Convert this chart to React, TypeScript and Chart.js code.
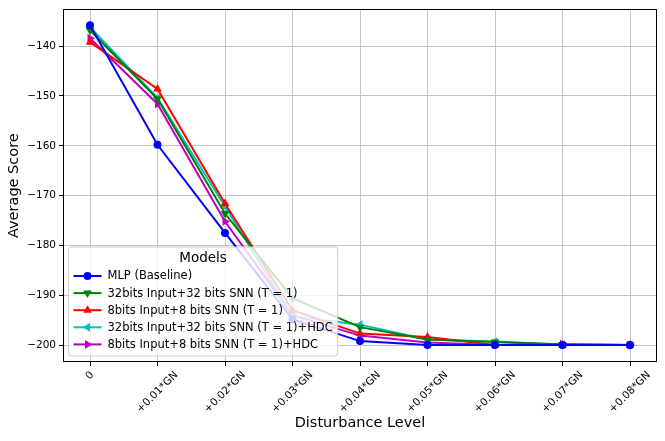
import React, { useEffect, useRef } from "react";
import { Chart, registerables, ChartConfiguration, Plugin } from "chart.js";

Chart.register(...registerables);

const levels = [
  "0",
  "+0.01*GN",
  "+0.02*GN",
  "+0.03*GN",
  "+0.04*GN",
  "+0.05*GN",
  "+0.06*GN",
  "+0.07*GN",
  "+0.08*GN",
];

const mlpBaseline = [-135.8, -159.8, -177.5, -194.8, -199.2, -200.0, -200.0, -200.0, -200.0];
const snn32 = [-136.8, -150.6, -173.6, -190.6, -196.4, -198.9, -199.4, -199.9, -200.0];
const snn8 = [-139.2, -148.6, -171.6, -193.0, -197.7, -198.4, -200.0, -200.0, -200.0];
const snn32Hdc = [-136.2, -150.4, -172.2, -194.2, -195.9, -198.9, -199.3, -199.9, -200.0];
const snn8Hdc = [-138.4, -151.6, -175.2, -194.0, -198.1, -199.5, -200.0, -199.8, -200.0];

const seriesNames = [
  "MLP (Baseline)",
  "32bits Input+32 bits SNN (T = 1)",
  "8bits Input+8 bits SNN (T = 1)",
  "32bits Input+32 bits SNN (T = 1)+HDC",
  "8bits Input+8 bits SNN (T = 1)+HDC",
];
const seriesValues = [mlpBaseline, snn32, snn8, snn32Hdc, snn8Hdc];
const seriesColors = ["#0000ff", "#008000", "#ff0000", "#00bfbf", "#bf00bf"];
const seriesMarkers = ["circle", "triangle", "triangle", "triangle", "triangle"];
const seriesRotation = [0, 180, 0, 270, 90];

const yTicks = [-200, -190, -180, -170, -160, -150, -140];

const FONT = "'DejaVu Sans', sans-serif";

// draw one legend marker by hand (circle or rotated triangle)
function drawMarker(ctx: CanvasRenderingContext2D, i: number, x: number, y: number) {
  ctx.fillStyle = seriesColors[i];
  ctx.beginPath();
  if (seriesMarkers[i] === "circle") {
    ctx.arc(x, y, 4, 0, Math.PI * 2);
  } else {
    const r = 5;
    let a = (seriesRotation[i] * Math.PI) / 180;
    for (let k = 0; k < 3; k++) {
      const px = x + Math.sin(a) * r;
      const py = y - Math.cos(a) * r;
      if (k === 0) ctx.moveTo(px, py);
      else ctx.lineTo(px, py);
      a += (2 * Math.PI) / 3;
    }
    ctx.closePath();
  }
  ctx.fill();
}

const framePlugin: Plugin<"line"> = {
  id: "frame",
  afterDatasetsDraw(chart) {
    const { ctx, chartArea } = chart;
    ctx.save();
    ctx.strokeStyle = "#000";
    ctx.lineWidth = 1;
    ctx.strokeRect(
      Math.round(chartArea.left) + 0.5,
      Math.round(chartArea.top) + 0.5,
      Math.round(chartArea.right - chartArea.left) - 1,
      Math.round(chartArea.bottom - chartArea.top) - 1
    );
    ctx.restore();
  },
};

// rotated x labels, centred under each tick like matplotlib
const xLabelsPlugin: Plugin<"line"> = {
  id: "xLabels",
  afterDraw(chart) {
    const { ctx, chartArea } = chart;
    const scale = chart.scales.x;
    const size = 10.5;
    ctx.save();
    ctx.font = `${size}px ${FONT}`;
    ctx.fillStyle = "#000";
    ctx.textAlign = "center";
    ctx.textBaseline = "middle";
    const top = chartArea.bottom + 7;
    levels.forEach((lab, i) => {
      const px = scale.getPixelForValue(i);
      const w = ctx.measureText(lab).width;
      const h = size * 1.15;
      const cy = top + (w + h) / (2 * Math.SQRT2);
      ctx.save();
      ctx.translate(px, cy);
      ctx.rotate(-Math.PI / 4);
      ctx.fillText(lab, 0, 0);
      ctx.restore();
    });
    ctx.restore();
  },
};

const legendPlugin: Plugin<"line"> = {
  id: "modelsLegend",
  afterDraw(chart) {
    const { ctx, chartArea } = chart;
    ctx.save();
    ctx.font = `11.5px ${FONT}`;
    const textW = Math.max(...seriesNames.map((n) => ctx.measureText(n).width));
    const left = chartArea.left + 5.5;
    const width = 39 + textW + 5;
    const height = 109;
    const top = chartArea.bottom - 6 - height;

    ctx.beginPath();
    ctx.roundRect(left, top, width, height, 3);
    ctx.fillStyle = "rgba(255,255,255,0.8)";
    ctx.fill();
    ctx.strokeStyle = "#cccccc";
    ctx.lineWidth = 1;
    ctx.stroke();

    ctx.fillStyle = "#000";
    ctx.textBaseline = "middle";
    ctx.textAlign = "center";
    ctx.font = `13.5px ${FONT}`;
    ctx.fillText("Models", left + width / 2, top + 11);

    ctx.textAlign = "left";
    ctx.font = `11.5px ${FONT}`;
    seriesNames.forEach((name, i) => {
      const y = top + 29 + i * 17.1;
      ctx.strokeStyle = seriesColors[i];
      ctx.lineWidth = 2;
      ctx.beginPath();
      ctx.moveTo(left + 5, y);
      ctx.lineTo(left + 33, y);
      ctx.stroke();
      drawMarker(ctx, i, left + 19, y);
      ctx.fillStyle = "#000";
      ctx.fillText(name, left + 39, y + 0.5);
    });
    ctx.restore();
  },
};

const App = () => {
  const chartRef = useRef<HTMLCanvasElement | null>(null);
  const chartInstanceRef = useRef<Chart<"line"> | null>(null);

  useEffect(() => {
    document.body.style.margin = "0";
    const ctx = chartRef.current?.getContext("2d");

    if (chartInstanceRef.current) {
      chartInstanceRef.current.destroy();
    }

    if (ctx) {
      const config: ChartConfiguration<"line"> = {
        type: "line",
        data: {
          datasets: seriesNames.map((name, i) => ({
            label: name,
            data: seriesValues[i].map((v, k) => ({ x: k, y: v })),
            borderColor: seriesColors[i],
            backgroundColor: seriesColors[i],
            borderWidth: 2,
            pointStyle: seriesMarkers[i] as any,
            pointRotation: seriesRotation[i],
            pointRadius: seriesMarkers[i] === "circle" ? 4 : 5,
            pointBorderWidth: 0,
            tension: 0,
            fill: false,
          })),
        },
        options: {
          responsive: true,
          maintainAspectRatio: false,
          animation: false,
          layout: { padding: { top: 7, right: 8, left: 0, bottom: 0 } },
          plugins: {
            legend: { display: false },
            tooltip: { enabled: false },
          },
          scales: {
            x: {
              type: "linear",
              min: -0.4,
              max: 8.4,
              afterBuildTicks: (scale) => {
                scale.ticks = levels.map((_, k) => ({ value: k }));
              },
              afterFit: (scale) => {
                scale.height = 79;
              },
              ticks: { display: false },
              grid: {
                color: "#c4c4c4",
                lineWidth: 1,
                drawTicks: true,
                tickLength: 4,
                tickColor: "#000",
              },
              border: { display: false },
              title: {
                display: true,
                text: "Disturbance Level",
                color: "#000",
                font: { family: FONT, size: 14.5 },
                padding: { top: 0, bottom: 9 },
              },
            },
            y: {
              type: "linear",
              min: -203.4,
              max: -132.6,
              afterBuildTicks: (scale) => {
                scale.ticks = yTicks.map((v) => ({ value: v }));
              },
              afterFit: (scale) => {
                scale.width = 63;
              },
              ticks: {
                color: "#000",
                font: { family: FONT, size: 10.5 },
                padding: 3,
                callback: (v) => "\u2212" + Math.abs(Number(v)),
              },
              grid: {
                color: "#c4c4c4",
                lineWidth: 1,
                drawTicks: true,
                tickLength: 4,
                tickColor: "#000",
              },
              border: { display: false },
              title: {
                display: true,
                text: "Average Score",
                color: "#000",
                font: { family: FONT, size: 14.5 },
                padding: { top: 6, bottom: 0 },
              },
            },
          },
        },
        plugins: [framePlugin, xLabelsPlugin, legendPlugin],
      };

      chartInstanceRef.current = new Chart(ctx, config);
    }

    return () => {
      if (chartInstanceRef.current) {
        chartInstanceRef.current.destroy();
        chartInstanceRef.current = null;
      }
    };
  }, []);

  return (
    <div style={{ width: 665, height: 441, position: "relative" }}>
      <canvas ref={chartRef} />
    </div>
  );
};

export default App;
